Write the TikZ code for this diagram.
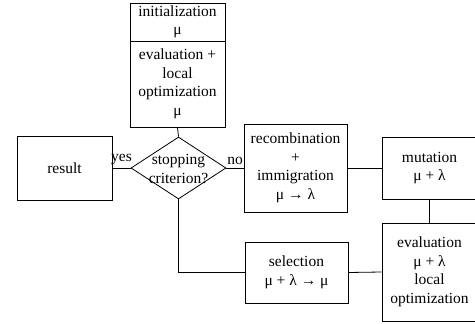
\documentclass[tikz,border=0pt]{standalone}
\usepackage{fontspec}
\setmainfont{Liberation Serif}
\usetikzlibrary{shapes.geometric}
\begin{document}
\begin{tikzpicture}[x=1pt,y=-1pt,
  box/.style={draw, line width=0.8pt, rectangle, inner sep=0pt, align=center, font=\fontsize{15.5}{18.5}\selectfont},
  txt/.style={inner sep=0pt, align=center, font=\fontsize{15.5}{18.5}\selectfont},
  conn/.style={draw, line width=0.8pt}]
\clip (0,0) rectangle (475,324);
\node[box, minimum width=95pt, minimum height=38pt] (init) at (177.5,22) {initialization\\μ};
\node[box, minimum width=95pt, minimum height=86pt] (eval1) at (177.5,84) {evaluation +\\local\\optimization\\μ};
\draw[line width=1.8pt] (init.south west) -- (init.south east);
\node[diamond, draw, line width=0.8pt, inner sep=0pt, minimum width=95pt, minimum height=62pt, aspect=1.53] (stop) at (178.5,168) {};
\node[txt] (stoptxt) at (178.5,169) {stopping\\criterion?};
\node[box, minimum width=95pt, minimum height=64pt] (result) at (64.5,168) {result};
\node[box, minimum width=103pt, minimum height=88pt] (recomb) at (295.5,168) {recombination\\+\\immigration\\μ → λ};
\node[box, minimum width=95pt, minimum height=62pt] (mut) at (429.5,168) {mutation\\μ + λ};
\node[box, minimum width=95pt, minimum height=98pt] (eval2) at (429.5,272) {evaluation\\μ + λ\\local\\optimization};
\node[box, minimum width=103pt, minimum height=61pt] (sel) at (296.5,272.5) {selection\\μ + λ → μ};
\draw[conn] (eval1.south) -- (stop.north);
\draw[conn] (stop.west) -- node[txt, above=3pt] (yes) {yes} (result.east);
\draw[conn] (stop.east) -- node[txt, above=3pt] (no) {no} (recomb.west);
\draw[conn] (recomb.east) -- (mut.west);
\draw[conn] (mut.south) -- (eval2.north);
\draw[conn] (eval2.west) -- (sel.east);
\draw[conn] (stop.south) |- (sel.west);
\end{tikzpicture}
\end{document}
